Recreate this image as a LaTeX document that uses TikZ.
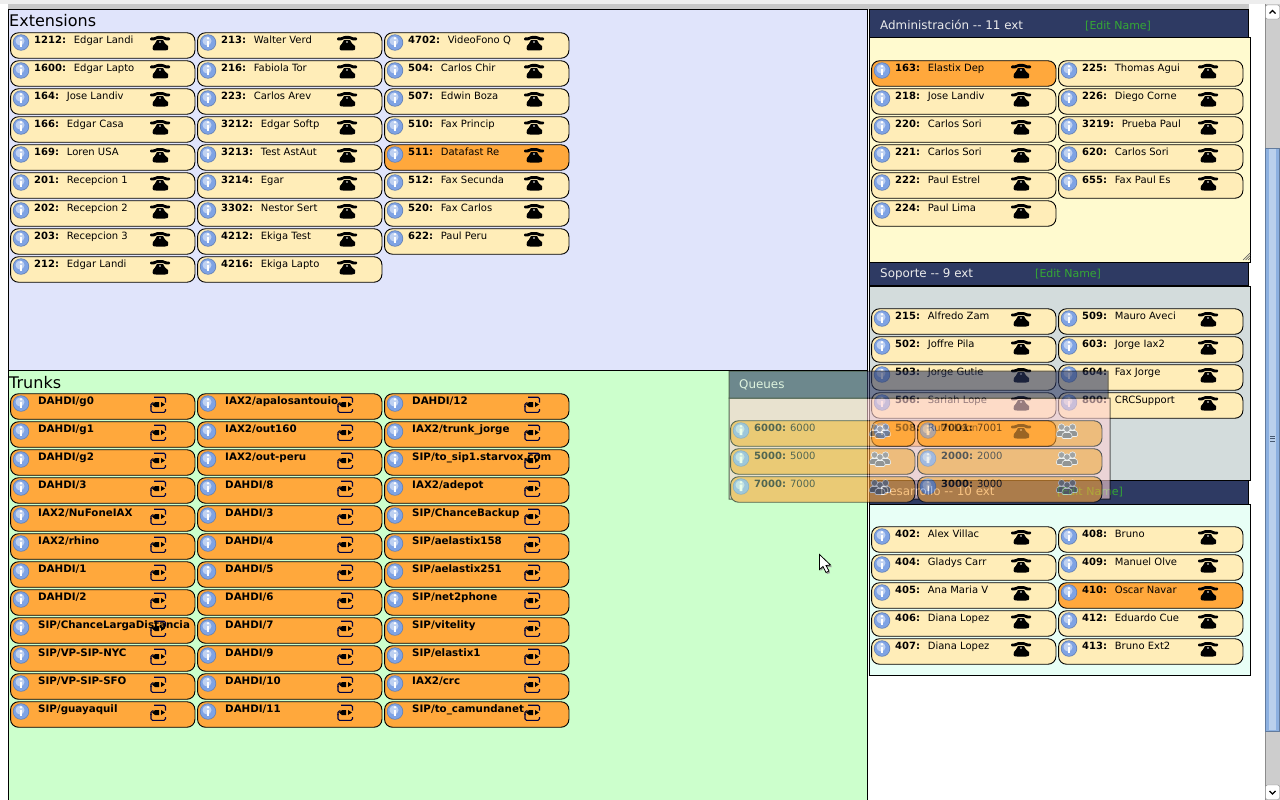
\documentclass[tikz,border=0pt]{standalone}
\usepackage{fontspec}
\setmainfont{DejaVu Sans}
\definecolor{extbg}{HTML}{E0E4FB}
\definecolor{trunkbg}{HTML}{CCFFCC}
\definecolor{adminbg}{HTML}{FFFACF}
\definecolor{soportebg}{HTML}{D3DCDC}
\definecolor{desarrollobg}{HTML}{E8FFF6}
\definecolor{headbg}{HTML}{2E3A63}
\definecolor{queuebg}{HTML}{FCD0D2}
\definecolor{chipcream}{HTML}{FFEDB8}
\definecolor{chiporange}{HTML}{FFA83C}
\definecolor{editgreen}{HTML}{35A835}
\definecolor{infoblue}{HTML}{7FA3E4}
\definecolor{thumb}{HTML}{8CB0E0}
\definecolor{track}{HTML}{CDCDCD}
\tikzset{
  panel/.style={draw=black,line width=1pt},
  chipbox/.style={draw=black,line width=0.9pt,rounded corners=8pt,minimum width=184.4pt,minimum height=25.5pt,inner sep=0pt,anchor=north west},
  chiptext/.style={anchor=base west,inner sep=0pt,font=\fontsize{10}{12}\selectfont,text=black},
  trunktext/.style={anchor=base west,inner sep=0pt,font=\fontsize{10.3}{12}\selectfont,text=black},
  headtext/.style={anchor=base west,inner sep=0pt,font=\fontsize{11.9}{14}\selectfont,text=white!92!black},
  edittext/.style={anchor=base west,inner sep=0pt,font=\fontsize{11}{13}\selectfont,text=editgreen},
  titletext/.style={anchor=base west,inner sep=0pt,font=\fontsize{16}{18}\selectfont,text=black},
}
\newcommand{\infoicon}{%
  \fill[infoblue!80!black] (11,10.5) circle (8.2);
  \fill[infoblue] (11,10.5) circle (7.4);
  \fill[infoblue!50!white] (10,9) circle (4.5);
  \fill[white] (11,6.2) circle (1.4);
  \fill[white] (9.7,8.6) rectangle (12.3,15);
}
\newcommand{\phoneicon}{%
  \fill[black,rounded corners=1pt] (140,5.5) -- (144,5.5) -- (147,4) -- (153,4) -- (156,5.5) -- (160,5.5) -- (160,8.4) -- (155,8.4) -- (154,7) -- (146,7) -- (145,8.4) -- (140,8.4) -- cycle;
  \fill[black] (147,8) -- (153,8) -- (155,11.5) -- (158,14) .. controls (159,18.5) and (157,18.5) .. (155,18.5) -- (146,18.5) .. controls (143,18.5) and (142,18) .. (143,14) -- (145,11.5) -- cycle;
  \fill[white] (150,10) circle (0.9);
}
\newcommand{\trunkicon}{%
  \draw[black!75!blue,line width=1.1pt,rounded corners=1.5pt] (144,4.2) -- (155.5,4.2) -- (155.5,9.5);
  \draw[black!80!blue,line width=1.1pt,rounded corners=1.5pt] (141,14) -- (141,9.8) -- (143.5,9.8);
  \draw[black!75!blue,line width=1.1pt,rounded corners=1.5pt] (141,13) -- (141,19.3) -- (155.5,19.3) -- (155.5,16);
  \fill[black] (142,11.5) -- (145,9.2) -- (149,9.2) -- (149,14) -- (145,14) -- cycle;
  \fill[black] (151,9) -- (155,11.5) -- (151,14) -- cycle;
}
\newcommand{\groupicon}{%
  \foreach \gx/\gy in {144.5/7,155.5/7,150/9}{
    \fill[black!50,draw=white,line width=0.6pt] (\gx,\gy) circle (3.2);
    \fill[black!60,draw=white,line width=0.6pt,rounded corners=1.5pt] (\gx-5.5,\gy+9.5) -- (\gx-4.2,\gy+3.5) -- (\gx+4.2,\gy+3.5) -- (\gx+5.5,\gy+9.5) -- cycle;
  }
}
% #1 x, #2 y, #3 fill, #4 icon, #5 text, #6 node name, #7 text offset, #8 text style
\newcommand{\chip}[8]{%
  \node[chipbox,fill=#3] (box#6) at (#1+0.1,#2+0.3) {};
  \begin{scope}[shift={(#1,#2)}]
    \infoicon #4
    \node[#8] (txt#6) at (#7,11.5) {#5};
  \end{scope}
}
\newcommand{\extcol}[3]{%
  \foreach \n/\m [count=\i from 0] in {#3}{%
    \pgfmathsetmacro{\yy}{#2+28*\i}
    \def\cc{chipcream}%
    \ifnum\n=511 \def\cc{chiporange}\fi
    \ifnum\n=163 \def\cc{chiporange}\fi
    \ifnum\n=410 \def\cc{chiporange}\fi
    \ifnum\n=508 \def\cc{chiporange}\fi
    \chip{#1}{\yy}{\cc}{\phoneicon}{\textbf{\n:}\hspace{7.8pt}\m}{e\n}{24}{chiptext}
  }%
}
\newcommand{\trunkcol}[3]{%
  \foreach \t [count=\i from 0] in {#3}{%
    \pgfmathsetmacro{\yy}{#2+28*\i}
    \chip{#1}{\yy}{chiporange}{\trunkicon}{\textbf{\t}}{t#1x\i}{28}{trunktext}
  }%
}
\newcommand{\queuecol}[3]{%
  \foreach \n [count=\i from 0] in {#3}{%
    \pgfmathsetmacro{\yy}{#2+28*\i}
    \chip{#1}{\yy}{chiporange}{\groupicon}{\textbf{\n:}\hspace{4pt}\n}{q\n}{24}{chiptext}
  }%
}
\begin{document}
\begin{tikzpicture}[x=1pt,y=-1pt]
\useasboundingbox (0,0) rectangle (1280,800);
\fill[white] (0,0) rectangle (1280,800);
% browser chrome
\fill[black!7] (0,0) rectangle (1280,4);
\fill[black!22] (8,4) rectangle (1249,10);
\fill[track] (1265,4) rectangle (1280,800);
\draw[black!45] (1265,4) -- (1265,800);
\fill[thumb,draw=thumb!70!black] (1265.5,148) rectangle (1279.5,731);
\fill[thumb!60!white] (1269,149) rectangle (1276,730);
\foreach \gy in {436,438.5,441}{\draw[thumb!50!black] (1270,\gy) -- (1275,\gy);}
\fill[white,draw=black!45,rounded corners=2pt] (1265.5,5) rectangle (1279.5,19);
\draw[black,line width=1.1pt] (1269.5,13.5) -- (1272.5,10.5) -- (1275.5,13.5);
\fill[white,draw=black!45,rounded corners=2pt] (1265.5,785) rectangle (1279.5,799.5);
\draw[black,line width=1.1pt] (1269.5,791) -- (1272.5,794) -- (1275.5,791);
% main panels
\fill[extbg,panel] (8.5,9.5) rectangle (867.5,370);
\fill[trunkbg,panel] (8.5,370.5) rectangle (867.5,801);
\draw[black,line width=1.5pt] (8.5,370.5) -- (867.5,370.5);
\node[titletext] (extTitle) at (9,27) {Extensions};
\node[titletext] (trunkTitle) at (9,388) {Trunks};
\extcol{10}{32}{1212/Edgar Landi,1600/Edgar Lapto,164/Jose Landiv,166/Edgar Casa,169/Loren USA,201/Recepcion 1,202/Recepcion 2,203/Recepcion 3,212/Edgar Landi}
\extcol{197}{32}{213/Walter Verd,216/Fabiola Tor,223/Carlos Arev,3212/Edgar Softp,3213/Test AstAut,3214/Egar,3302/Nestor Sert,4212/Ekiga Test,4216/Ekiga Lapto}
\extcol{384}{32}{4702/VideoFono Q,504/Carlos Chir,507/Edwin Boza,510/Fax Princip,511/Datafast Re,512/Fax Secunda,520/Fax Carlos,622/Paul Peru}
\trunkcol{10}{393}{DAHDI/g0,DAHDI/g1,DAHDI/g2,DAHDI/3,IAX2/NuFoneIAX,IAX2/rhino,DAHDI/1,DAHDI/2,SIP/ChanceLargaDistancia,SIP/VP-SIP-NYC,SIP/VP-SIP-SFO,SIP/guayaquil}
\trunkcol{197}{393}{IAX2/apalosantouio,IAX2/out160,IAX2/out-peru,DAHDI/8,DAHDI/3,DAHDI/4,DAHDI/5,DAHDI/6,DAHDI/7,DAHDI/9,DAHDI/10,DAHDI/11}
\trunkcol{384}{393}{DAHDI/12,IAX2/trunk\_jorge,SIP/to\_sip1.starvox.com,IAX2/adepot,SIP/ChanceBackup,SIP/aelastix158,SIP/aelastix251,SIP/net2phone,SIP/vitelity,SIP/elastix1,IAX2/crc,SIP/to\_camundanet}
% Administración
\fill[adminbg,panel] (869.5,38) rectangle (1250.5,262);
\fill[headbg,panel] (869.5,10) rectangle (1248.5,38);
\node[headtext] (adminHead) at (880,29.5) {Administración -{}- 11 ext};
\node[edittext] (adminEdit) at (1085,29.5) {[Edit Name]};
\foreach \d in {0,2.5,5}{\draw[black!60,line width=0.7pt] (1250,253+\d) -- (1243+\d,260);}
\extcol{871}{60}{163/Elastix Dep,218/Jose Landiv,220/Carlos Sori,221/Carlos Sori,222/Paul Estrel,224/Paul Lima}
\extcol{1058}{60}{225/Thomas Agui,226/Diego Corne,3219/Prueba Paul,620/Carlos Sori,655/Fax Paul Es}
% Soporte
\fill[soportebg,panel] (869.5,286) rectangle (1250.5,480);
\fill[headbg,panel] (869.5,262) rectangle (1248.5,285.5);
\node[headtext] (sopHead) at (880,277.5) {Soporte -{}- 9 ext};
\node[edittext] (sopEdit) at (1035,277.5) {[Edit Name]};
\extcol{871}{308}{215/Alfredo Zam,502/Joffre Pila,503/Jorge Gutie,506/Sariah Lope,508/Ruth Leon}
\extcol{1058}{308}{509/Mauro Aveci,603/Jorge Iax2,604/Fax Jorge,800/CRCSupport}
% Desarrollo
\fill[desarrollobg,panel] (869.5,504) rectangle (1250.5,675.5);
\fill[headbg,panel] (869.5,480) rectangle (1248.5,504);
\node[headtext] (desHead) at (880,495.5) {Desarrollo -{}- 10 ext};
\node[edittext] (desEdit) at (1057,495.5) {[Edit Name]};
\extcol{871}{526}{402/Alex Villac,404/Gladys Carr,405/Ana Maria V,406/Diana Lopez,407/Diana Lopez}
\extcol{1058}{526}{408/Bruno,409/Manuel Olve,410/Oscar Navar,412/Eduardo Cue,413/Bruno Ext2}
% Queues overlay
\begin{scope}[transparency group,opacity=0.6]
\fill[queuebg,panel] (729,398) rectangle (1110,499);
\fill[headbg,panel] (729,371) rectangle (1108,398);
\node[headtext] (qHead) at (739,388) {Queues};
\queuecol{730}{420}{6000,5000,7000}
\queuecol{917}{420}{7001,2000,3000}
\end{scope}
% pointer
\fill[black!40] (820.5,556) -- (820.5,571) -- (824,568) -- (827,574) -- (830,573) -- (827,567) -- (832,567) -- cycle;
\filldraw[fill=white,draw=black,line width=0.8pt] (819.5,554.5) -- (819.5,569.5) -- (823,566.5) -- (826,572.5) -- (829,571) -- (826,565.5) -- (830.5,565) -- cycle;
\end{tikzpicture}
\end{document}
